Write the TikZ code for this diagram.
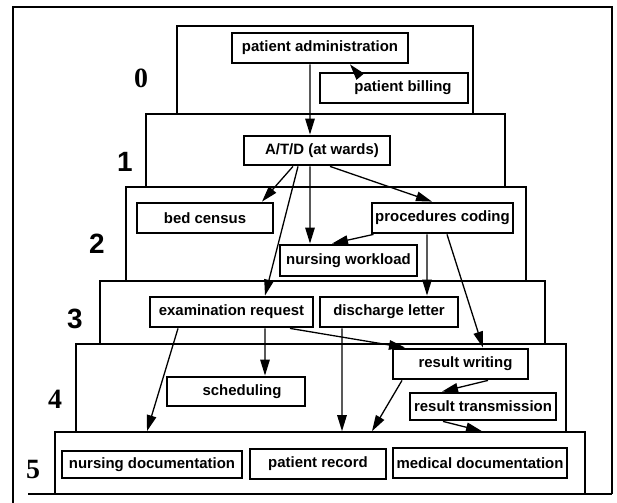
\documentclass[tikz,border=0pt]{standalone}
\usepackage{fontspec}
\setmainfont{Liberation Sans}
\newfontfamily\numserif{Liberation Serif}
\usepackage{tikz}
\usetikzlibrary{arrows.meta}

\begin{document}
\begin{tikzpicture}
  [x=1bp, y=-1bp,
   layer/.style={draw=black, line width=1.6bp, inner sep=0, minimum size=0},
   fbox/.style={draw=black, line width=2.8bp, inner sep=0, minimum height=30bp,
                font=\fontsize{15}{17}\selectfont\bfseries},
   lnum/.style={inner sep=0, font=\fontsize{28}{30}\selectfont\bfseries},
   flow/.style={line width=1.3bp, -{Triangle[length=16bp, width=9.5bp]}}]

  \useasboundingbox (0,0) rectangle (617,503);

  % frame
  \draw[line width=1.6bp] (13,503) -- (13,7) -- (612,7) -- (612,494);
  \draw[line width=1.6bp] (28,494) -- (612,494);

  % layers
  \node[layer, minimum width=296bp, minimum height=88bp] (lay0) at (325,70) {};
  \node[layer, minimum width=359bp, minimum height=73bp] (lay1) at (325.5,150.5) {};
  \node[layer, minimum width=400bp, minimum height=94bp] (lay2) at (326,234) {};
  \node[layer, minimum width=445bp, minimum height=63bp] (lay3) at (322.5,312.5) {};
  \node[layer, minimum width=490bp, minimum height=88bp] (lay4) at (321,388) {};
  \node[layer, minimum width=530bp, minimum height=62bp] (lay5) at (320,463) {};

  % level numbers
  \node[lnum, font=\fontsize{28}{30}\selectfont\bfseries\numserif] (n0) at (141,78) {0};
  \node[lnum] (n1) at (125,162) {1};
  \node[lnum] (n2) at (97,244) {2};
  \node[lnum] (n3) at (75,319) {3};
  \node[lnum, font=\fontsize{28}{30}\selectfont\bfseries\numserif] (n4) at (55,399) {4};
  \node[lnum, font=\fontsize{28}{30}\selectfont\bfseries\numserif] (n5) at (33,469) {5};

  % functions
  \node[fbox, minimum width=176bp] (padm) at (320,48) {patient administration};
  \node[fbox, minimum width=148bp] (pbill) at (394,88) {\hspace{18bp}patient billing};
  \node[fbox, minimum width=146bp, minimum height=29bp] (atd) at (317,150.5) {\hspace{10bp}A/T/D (at wards)};
  \node[fbox, minimum width=136bp] (bedc) at (205,218) {bed census};
  \node[fbox, minimum width=141bp] (proc) at (442.5,218) {procedures coding};
  \node[fbox, minimum width=137bp, minimum height=31bp] (nwl) at (348.5,260.5) {nursing workload};
  \node[fbox, minimum width=163bp] (exreq) at (231.5,312) {examination request};
  \node[fbox, minimum width=138bp] (disch) at (389,312) {discharge letter};
  \node[fbox, minimum width=135bp] (resw) at (460.5,364) {\hspace{10bp}result writing};
  \node[fbox, minimum width=138bp, minimum height=29bp] (sched) at (236,391.5) {\hspace{12bp}scheduling};
  \node[fbox, minimum width=146bp, minimum height=27bp] (rtrans) at (483,406.5) {result transmission};
  \node[fbox, minimum width=180bp, minimum height=27bp] (nursdoc) at (152,464.5) {nursing documentation};
  \node[fbox, minimum width=136bp] (precord) at (318,464) {patient record};
  \node[fbox, minimum width=174bp] (meddoc) at (480,463) {medical documentation};

  % flows
  \draw[flow] ([xshift=-10bp]padm.south) -- ([xshift=-7bp]atd.north);
  \draw[flow] ([xshift=-38bp]pbill.north) -- ([xshift=30bp]padm.south);
  \draw[flow] ([xshift=-24bp]atd.south) -- ([xshift=57bp]bedc.north);
  \draw[flow] ([xshift=-19bp]atd.south) -- ([xshift=33.5bp]exreq.north);
  \draw[flow] ([xshift=-7bp]atd.south) -- ([xshift=-38.5bp]nwl.north);
  \draw[flow] ([xshift=13bp]atd.south) -- ([xshift=-10.5bp]proc.north);
  \draw[flow] ([xshift=-69bp]proc.south) -- ([xshift=-16.5bp]nwl.north);
  \draw[flow] ([xshift=-15.5bp]proc.south) -- ([xshift=38bp]disch.north);
  \draw[flow] ([xshift=4.5bp]proc.south) -- ([xshift=22.5bp]resw.north);
  \draw[flow] ([xshift=33.5bp]exreq.south) -- ([xshift=29bp]sched.north);
  \draw[flow] ([xshift=58.5bp]exreq.south) -- ([xshift=-55.5bp]resw.north);
  \draw[flow] ([xshift=-53.5bp]exreq.south) -- ([xshift=-173bp]lay5.north);
  \draw[flow] ([xshift=-47bp]disch.south) -- ([xshift=22bp]lay5.north);
  \draw[flow] ([xshift=-58.5bp]resw.south) -- ([xshift=52bp]lay5.north);
  \draw[flow] ([xshift=27.5bp]resw.south) -- ([xshift=-41bp]rtrans.north);
  \draw[flow] ([xshift=-40bp]rtrans.south) -- ([xshift=162bp]lay5.north);

\end{tikzpicture}
\end{document}
